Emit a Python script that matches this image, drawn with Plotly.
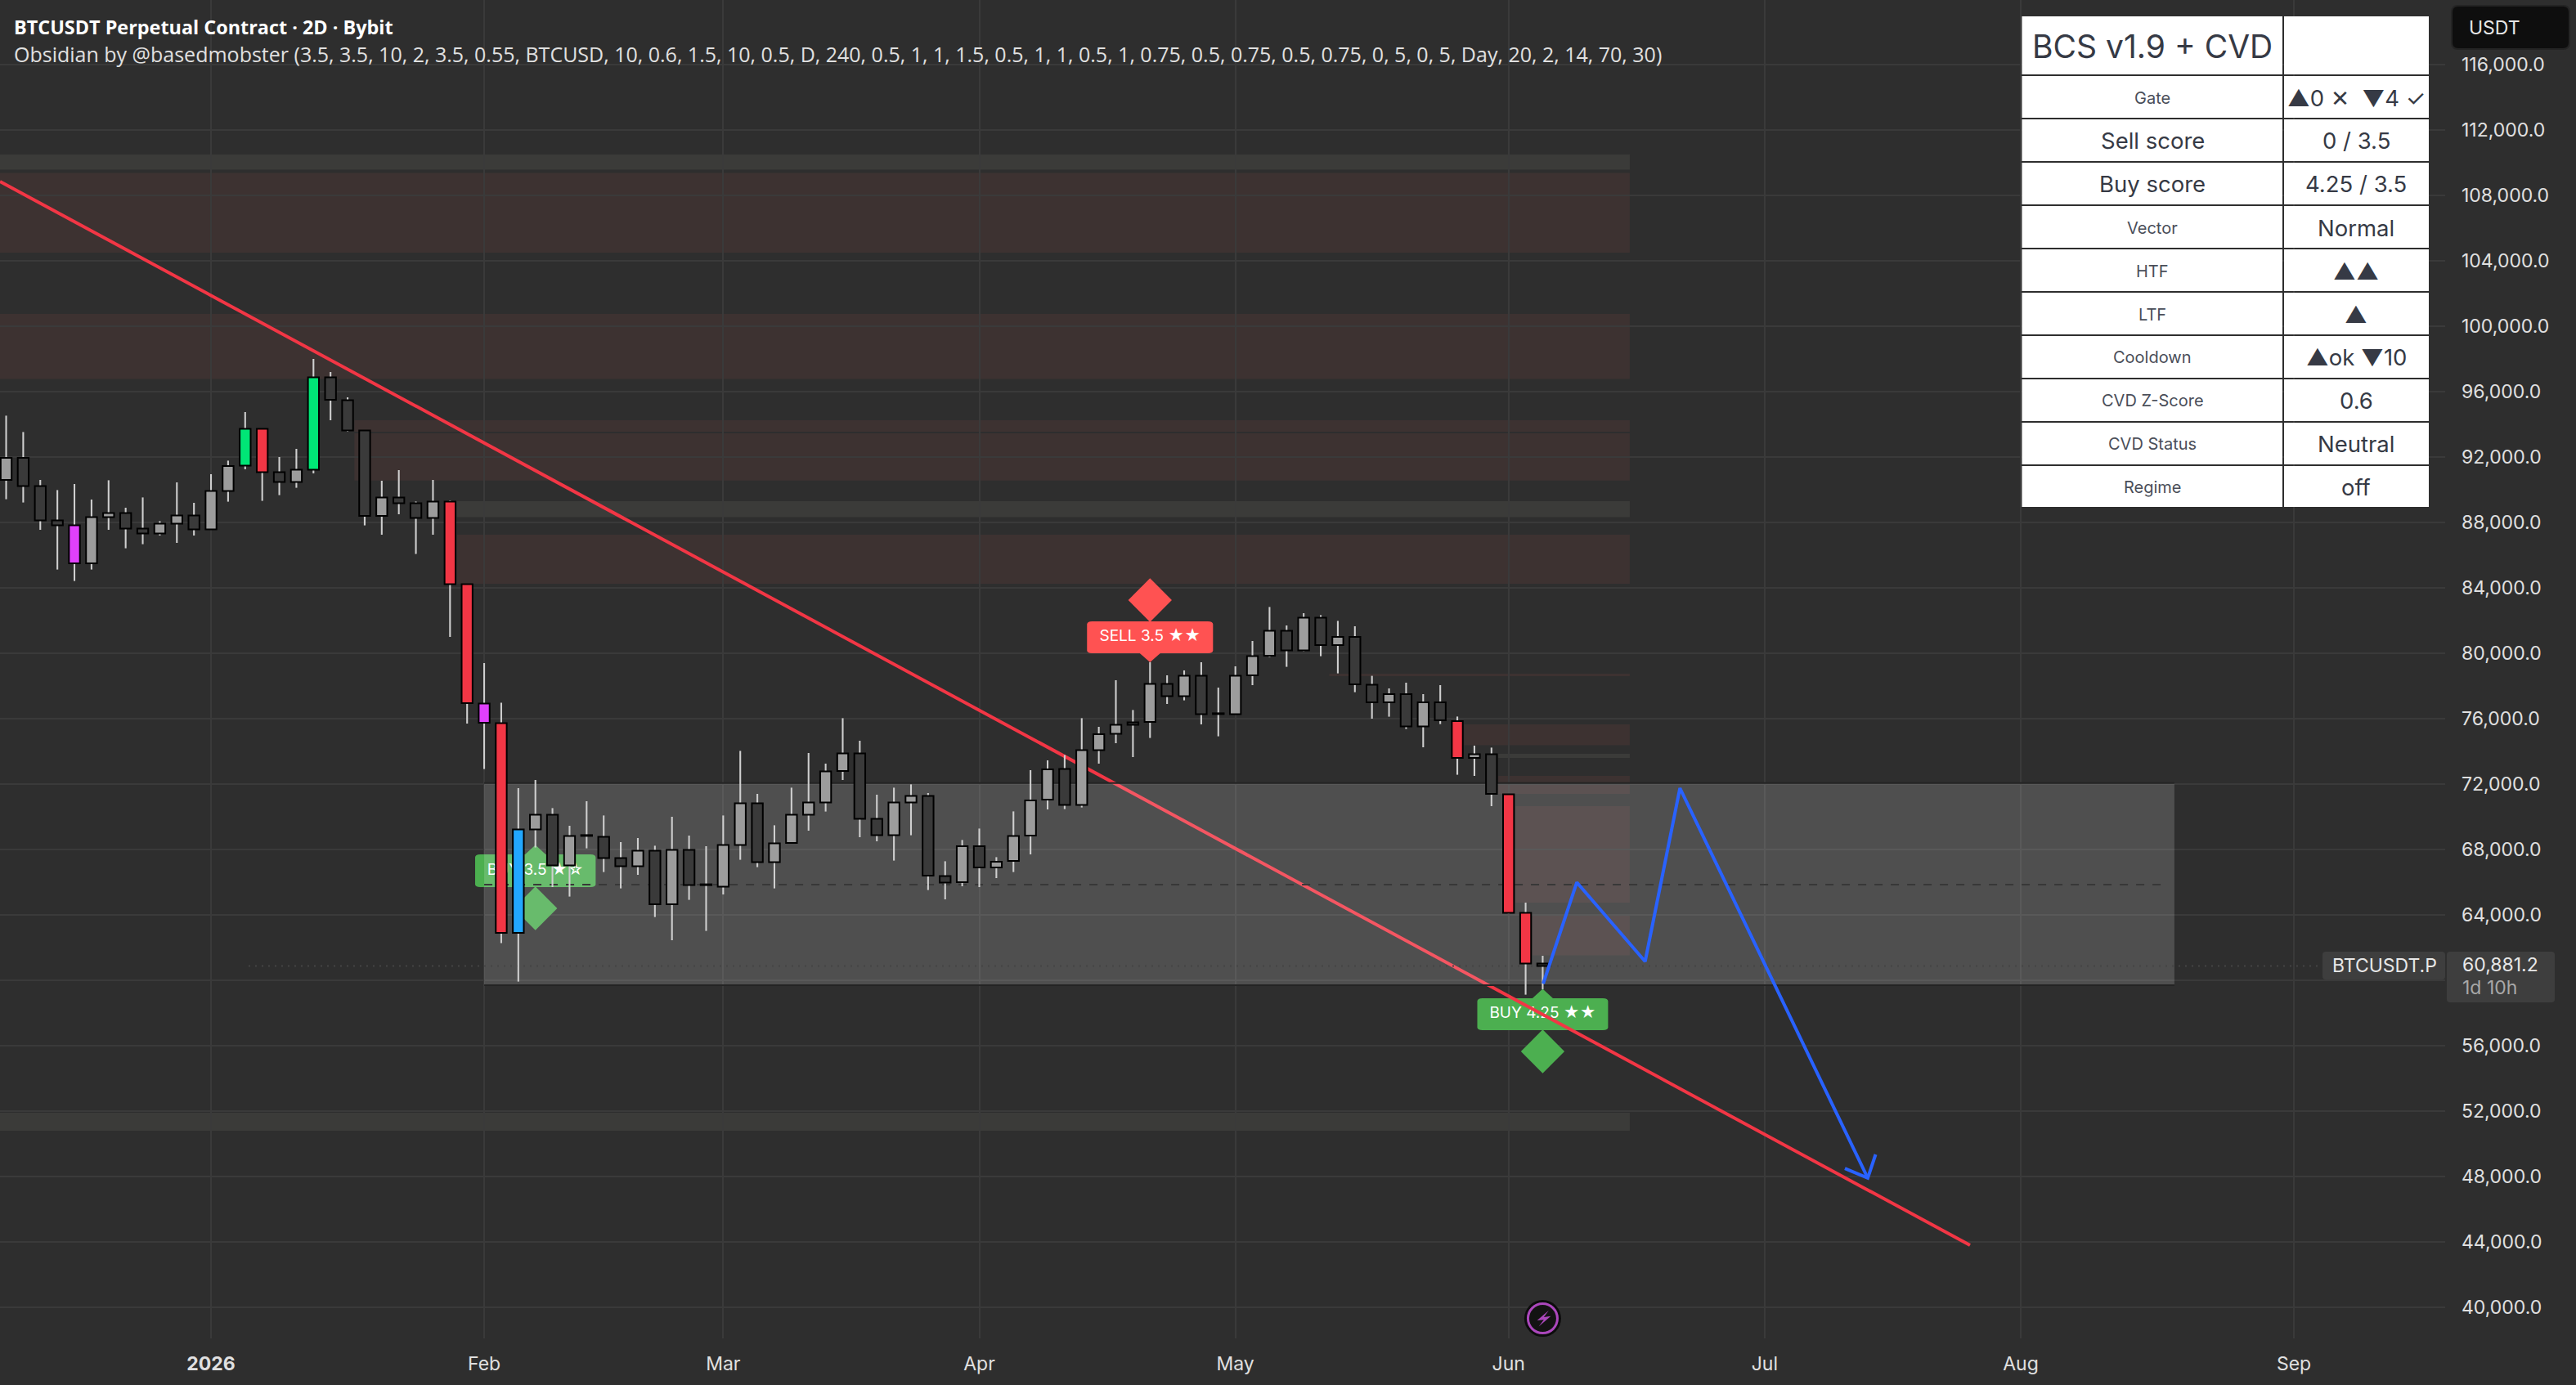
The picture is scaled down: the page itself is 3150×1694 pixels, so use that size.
import plotly.graph_objects as go

WIDTH, HEIGHT = 3150, 1694

# candles, index = 2D bars counted from Jan 1 2026
bar_index = list(range(-12, 79))
opens = [90600, 91950, 90220, 88120, 87820, 85500, 88330, 88570, 87620, 87330, 87930, 88420,
         87580, 89930, 91480, 93720, 91070, 90480, 91230, 96870, 95480, 93620, 88400, 89520, 89170, 88280,
         89270, 84230, 76920, 75720, 62900, 69230, 70120, 67030, 68880, 68770, 67470, 66980, 67920, 64650,
         67970, 65870, 65730, 68280, 70820, 67230, 68400, 70130, 70880, 72800, 73870, 69870, 68880, 70880,
         71270, 66370, 66000, 68200, 66900, 67300, 68850, 71050, 72920, 70730, 74080, 75080, 75780, 75800,
         78120, 77380, 78620, 76330, 76280, 78650, 79850, 81370, 80180, 82170, 80500, 81000, 78070, 77000,
         77500, 75530, 77000, 75850, 73600, 73820, 71370, 64120, 61030]
closes = [91950, 90230, 88130, 87830, 85500, 88320, 88570, 87630, 87330, 87920, 88420, 87580,
          89920, 91450, 93720, 91080, 90480, 91220, 96870, 95500, 93620, 88400, 89520, 89180, 88280, 89270,
          84230, 76950, 75750, 62900, 69220, 70120, 67030, 68820, 68830, 67480, 66980, 67920, 64650, 67970,
          65830, 65820, 68270, 70820, 67230, 68370, 70120, 70870, 72770, 73870, 69880, 68880, 70870, 71270,
          66400, 65980, 68200, 66900, 67250, 68820, 71000, 72900, 70730, 74070, 75050, 75620, 75630, 78120,
          77380, 78620, 76280, 76280, 78620, 79820, 81370, 80180, 82170, 80500, 81000, 78100, 77000, 77500,
          75530, 77000, 75900, 73600, 73820, 71400, 64130, 61030, 60881.2]
highs = [94530, 93530, 90600, 89980, 90350, 89400, 90580, 88900, 89530, 88080, 90450, 89200,
         90950, 91780, 94750, 93720, 92000, 92500, 98000, 97200, 95650, 93620, 90550, 91200, 89280, 90600,
         89350, 84230, 79400, 76980, 71750, 72250, 70530, 69450, 70950, 70080, 68450, 68700, 68230, 70000,
         68850, 68200, 70080, 74030, 71400, 69480, 71780, 73900, 73250, 76030, 74650, 71350, 71780, 71980,
         71450, 67280, 68580, 69280, 67530, 70330, 72850, 73450, 73780, 76030, 75500, 78350, 76530, 79450,
         78650, 78950, 79450, 77900, 79200, 80750, 82830, 81700, 82450, 82330, 81980, 81650, 78620, 77850,
         78200, 77500, 78050, 76130, 74350, 74230, 71400, 64750, 61500]
lows = [89420, 89220, 87550, 85120, 84420, 85120, 87550, 86420, 86670, 87200, 86750, 87200,
        87580, 89270, 91250, 89320, 89670, 90120, 91000, 94250, 93550, 87820, 87250, 88500, 86070, 87250,
        81000, 75700, 72920, 62280, 59920, 68120, 65700, 65120, 68070, 66620, 65620, 66450, 63870, 62450,
        64920, 63020, 65250, 67370, 66920, 65620, 68400, 69150, 70320, 72250, 68750, 68500, 67320, 68870,
        65520, 64950, 65750, 65700, 66250, 66620, 67700, 70450, 70470, 70570, 73250, 74500, 73650, 74820,
        76900, 77120, 75650, 74920, 76280, 78050, 79770, 79170, 80120, 79820, 78770, 77620, 76000, 76120,
        75370, 74250, 75670, 72570, 72500, 70650, 64080, 59120, 59450]

# coloured "vector" candles
magenta_bars = [-8, 16]
green_bars = [2, 6]
red_bars = [3, 14, 15, 17, 73, 76, 77]
blue_bars = [18]

# axes
price_ticks = list(range(40000, 116001, 4000))
month_ticks = [0, 16, 30, 45, 60, 76, 91, 106, 122]
month_labels = ["<b>2026</b>", "Feb", "Mar", "Apr", "May", "Jun", "Jul", "Aug", "Sep"]
last_price = 60881.2

# zones drawn on the chart: start bar, bottom, top
red_zones = [(-13, 104500, 109370), (-13, 96780, 100750), (8.4, 93550, 94250), (8.4, 90560, 93450),
             (14.4, 84250, 87250), (65.5, 78600, 78750), (73.4, 74370, 75650), (75.4, 71400, 72500),
             (76.4, 64750, 70650), (77.4, 61520, 64050)]
grey_zones = [(-13, 109570, 110500), (14.4, 88320, 89300), (75.4, 73600, 73850), (-13, 50800, 51900)]
zones_end = 83.1

box_bars = [16, 115]
box_prices = [59700, 72060]
box_mid = 65850

trend_bars = [-12.36, 103.03]
trend_prices = [108850, 43800]

path_bars = [78.03, 80, 84, 86.04, 97.04]
path_prices = [59790, 65990, 61150, 71750, 47910]
arrow_bars = [95.7, 97.04, 97.5]
arrow_prices = [48490, 47910, 49350]

# signals
signal_names = ["BUY 3.5 ★☆", "SELL 3.5 ★★", "BUY 4.25 ★★"]
signal_bars = [19, 55, 78]
signal_diamonds = [64400, 83250, 55650]
signal_bottoms = [65700, 80000, 56950]
signal_tops = [67700, 81950, 58900]
signal_tips = [68280, 79450, 59480]
signal_halfs = [3.53, 3.69, 3.83]
signal_colors = ["#4caf50", "#ff5252", "#4caf50"]

# table
table_title = "BCS v1.9 + CVD"
table_names = ["Gate", "Sell score", "Buy score", "Vector", "HTF", "LTF", "Cooldown", "CVD Z-Score", "CVD Status", "Regime"]
table_values = ["▲0 ✕  ▼4 ✓", "0 / 3.5", "4.25 / 3.5", "Normal", "▲▲", "▲", "▲ok ▼10", "0.6", "Neutral", "off"]

title_text = "BTCUSDT Perpetual Contract · 2D · Bybit"
study_text = ("Obsidian by @basedmobster (3.5, 3.5, 10, 2, 3.5, 0.55, BTCUSD, 10, 0.6, 1.5, 10, 0.5, D, 240, 0.5, 1, 1, "
              "1.5, 0.5, 1, 1, 0.5, 1, 0.75, 0.5, 0.75, 0.5, 0.75, 0, 5, 0, 5, Day, 20, 2, 14, 70, 30)")

BG = "#2e2e2e"
GRID = "#3a3a3a"
FONT = "Inter, Liberation Sans, DejaVu Sans"


def px(x):
    return x / WIDTH


def py(y):
    return 1 - y / HEIGHT


def rounded(x0, y0, x1, y1, rx, ry):
    return (f"M{x0+rx},{y0} L{x1-rx},{y0} Q{x1},{y0} {x1},{y0+ry} L{x1},{y1-ry} Q{x1},{y1} {x1-rx},{y1} "
            f"L{x0+rx},{y1} Q{x0},{y1} {x0},{y1-ry} L{x0},{y0+ry} Q{x0},{y0} {x0+rx},{y0} Z")


def paper_rect(x0, y0, x1, y1, color, line=None, r=0):
    shape = dict(type="path", xref="paper", yref="paper", layer="above", fillcolor=color,
                 path=rounded(px(x0), py(y0), px(x1), py(y1), r / WIDTH, -r / HEIGHT),
                 line=dict(width=0 if line is None else 2, color=line or color))
    return shape


def paper_text(x, y, text, size, color, anchor="left", family=FONT):
    return dict(x=px(x), y=py(y), xref="paper", yref="paper", text=text, showarrow=False, xanchor=anchor,
                yanchor="middle", font=dict(size=size, color=color, family=family))


body_colors = []
for i, o, c in zip(bar_index, opens, closes):
    if i in magenta_bars:
        body_colors.append("#e040fb")
    elif i in green_bars:
        body_colors.append("#00e676")
    elif i in red_bars:
        body_colors.append("#f23645")
    elif i in blue_bars:
        body_colors.append("#22a7ff")
    else:
        body_colors.append("#9c9c9c" if c >= o else "#3a3a3a")

fig = go.Figure()

# main layer: signals, trend line, box
fig.add_trace(go.Scatter(x=signal_bars, y=signal_diamonds, mode="markers",
                         marker=dict(symbol="diamond", size=41, color=signal_colors, line=dict(width=0)),
                         hoverinfo="skip"))
fig.add_trace(go.Scatter(x=signal_bars, y=[(a + b) / 2 for a, b in zip(signal_bottoms, signal_tops)], mode="text",
                         text=signal_names, textposition="middle center",
                         textfont=dict(size=19, color="#ffffff", family=FONT), hoverinfo="skip"))
fig.add_trace(go.Scatter(x=trend_bars, y=trend_prices, mode="lines", line=dict(color="#f23645", width=4),
                         hoverinfo="skip"))
fig.add_trace(go.Scatter(x=[box_bars[0], box_bars[1], box_bars[1], box_bars[0], box_bars[0]],
                         y=[box_prices[0], box_prices[0], box_prices[1], box_prices[1], box_prices[0]],
                         mode="lines", fill="toself", fillcolor="rgba(255,255,255,0.16)", line=dict(width=0),
                         hoverinfo="skip"))
for p in box_prices:
    fig.add_trace(go.Scatter(x=box_bars, y=[p, p], mode="lines", line=dict(color="#242424", width=2), hoverinfo="skip"))
fig.add_trace(go.Scatter(x=[16, 114.5], y=[box_mid, box_mid], mode="lines",
                         line=dict(color="#383838", width=2, dash="10px 10px"), hoverinfo="skip"))
fig.add_trace(go.Scatter(x=[2.2, 123.4], y=[last_price, last_price], mode="lines",
                         line=dict(color="#454545", width=2, dash="2px 6px"), hoverinfo="skip"))

# overlay layer so the candles sit above everything in the main layer
fig.add_trace(go.Bar(x=bar_index, y=[h - l for h, l in zip(highs, lows)], base=lows, width=0.1,
                     marker=dict(color="#cfcfcf", line=dict(width=0)), xaxis="x2", yaxis="y2", hoverinfo="skip"))
fig.add_trace(go.Bar(x=bar_index, y=[abs(c - o) for o, c in zip(opens, closes)],
                     base=[min(o, c) for o, c in zip(opens, closes)], width=0.64,
                     marker=dict(color=body_colors, line=dict(width=2, color="#000000")),
                     xaxis="x2", yaxis="y2", hoverinfo="skip"))
fig.add_trace(go.Scatter(x=path_bars, y=path_prices, mode="lines", line=dict(color="#2962ff", width=4),
                         xaxis="x2", yaxis="y2", hoverinfo="skip"))
fig.add_trace(go.Scatter(x=arrow_bars, y=arrow_prices, mode="lines", line=dict(color="#2962ff", width=4),
                         xaxis="x2", yaxis="y2", hoverinfo="skip"))
# the last bar's alert badge
fig.add_trace(go.Scatter(x=[78], y=[39320], mode="markers", marker=dict(size=45, color="#0c0c0c", line=dict(width=0)),
                         xaxis="x2", yaxis="y2", hoverinfo="skip"))
fig.add_trace(go.Scatter(x=[78], y=[39320], mode="markers",
                         marker=dict(size=36, color="#131313", line=dict(width=3, color="#ab47bc")),
                         xaxis="x2", yaxis="y2", hoverinfo="skip"))

shapes = []
for start, low, high in red_zones:
    shapes.append(dict(type="rect", xref="x", yref="y", x0=start, x1=zones_end, y0=low, y1=high, layer="below",
                       fillcolor="rgba(255,110,90,0.075)", line=dict(width=0)))
for start, low, high in grey_zones:
    shapes.append(dict(type="rect", xref="x", yref="y", x0=start, x1=zones_end, y0=low, y1=high, layer="below",
                       fillcolor="rgba(255,250,230,0.065)", line=dict(width=0)))

for b, lo, hi, tip, half, col in zip(signal_bars, signal_bottoms, signal_tops, signal_tips, signal_halfs, signal_colors):
    shapes.append(dict(type="path", xref="x", yref="y", layer="between", fillcolor=col, line=dict(width=0),
                       path=rounded(b - half, lo, b + half, hi, 0.3, 190)))
    edge = hi if tip > hi else lo
    shapes.append(dict(type="path", xref="x", yref="y", layer="between", fillcolor=col, line=dict(width=0),
                       path=f"M{b-0.6},{edge} L{b},{tip} L{b+0.6},{edge} Z"))

# lightning bolt of the badge
bolt = [(1893.9, 1602.8), (1879.6, 1615), (1887.8, 1614.2), (1881.6, 1622.6), (1896.4, 1609.8), (1887.8, 1610.9)]
shapes.append(dict(type="path", xref="paper", yref="paper", layer="above", fillcolor="#ab47bc", line=dict(width=0),
                   path="M" + " L".join(f"{px(x)},{py(y)}" for x, y in bolt) + " Z"))

# table
col_x = [2472.5, 2792, 2970]
row_y = [20, 92, 145, 198, 251, 304, 357, 410, 463, 516, 569, 621]
annotations = []
for r in range(len(row_y) - 1):
    for c in range(2):
        shapes.append(dict(type="rect", xref="paper", yref="paper", layer="above", fillcolor="#ffffff",
                           line=dict(width=0), x0=px(col_x[c] + (1 if c else 0)), x1=px(col_x[c + 1] - (0 if c else 1)),
                           y0=py(row_y[r + 1] - 1), y1=py(row_y[r] + (1 if r else 0))))
annotations.append(paper_text((col_x[0] + col_x[1]) / 2, 56, table_title, 39, "#363a45", "center"))
for r, (name, value) in enumerate(zip(table_names, table_values)):
    mid = (row_y[r + 1] + row_y[r + 2]) / 2 + 1
    big = name in ("Sell score", "Buy score")
    annotations.append(paper_text((col_x[0] + col_x[1]) / 2, mid, name, 27.5 if big else 20, "#363a45" if big else "#4a4e59", "center"))
    annotations.append(paper_text((col_x[1] + col_x[2]) / 2, mid, value, 27.5, "#363a45", "center"))

# header and price scale tags
annotations.append(paper_text(15, 33, "<b>" + title_text + "</b>", 23.4, "#ffffff", family="Open Sans"))
annotations.append(paper_text(15, 66, study_text, 25, "#e0e0e0", family="Open Sans"))
shapes.append(paper_rect(2998, 7, 3142, 60, "#0e0e0e", "#242424", 8))
annotations.append(paper_text(3017, 34, "USDT", 23, "#e6e6e6"))
shapes.append(paper_rect(2840, 1164, 2990, 1198, "#3e3e3e", None, 4))
shapes.append(paper_rect(2992, 1164, 3124, 1226, "#3e3e3e", None, 4))
annotations.append(paper_text(2850, 1181, "BTCUSDT.P", 23, "#e8e8e8"))
annotations.append(paper_text(3009, 1180, "60,881.2", 23, "#e8e8e8"))
annotations.append(paper_text(3009, 1208, "1d 10h", 23, "#a8a8a8"))

x_range = [-12.36, 130.86]
y_range = [38100, 119950]
fig.update_layout(
    width=WIDTH, height=HEIGHT, margin=dict(l=0, r=0, t=0, b=0), showlegend=False,
    paper_bgcolor=BG, plot_bgcolor=BG, barmode="overlay", shapes=shapes, annotations=annotations,
    xaxis=dict(domain=[0, 2990 / WIDTH], range=x_range, tickvals=month_ticks, ticktext=month_labels,
               showgrid=True, gridcolor=GRID, gridwidth=2, zeroline=False, showline=False, ticks="",
               ticklabelstandoff=15, tickfont=dict(size=23, color="#e0e0e0", family=FONT)),
    yaxis=dict(domain=[57 / HEIGHT, 1], range=y_range, side="right", tickvals=price_ticks,
               ticktext=["" if p == 60000 else f"{p:,.1f}" for p in price_ticks],
               showgrid=True, gridcolor=GRID, gridwidth=2, zeroline=False, showline=False, ticks="",
               ticklabelstandoff=19, tickfont=dict(size=23, color="#e0e0e0", family=FONT)),
    xaxis2=dict(overlaying="x", range=x_range, visible=False),
    yaxis2=dict(overlaying="y", range=y_range, visible=False, side="right"),
)

fig.write_html("out.html", config={"displayModeBar": False},
               post_script="document.body.style.margin='0';document.body.style.background='#2e2e2e';")
